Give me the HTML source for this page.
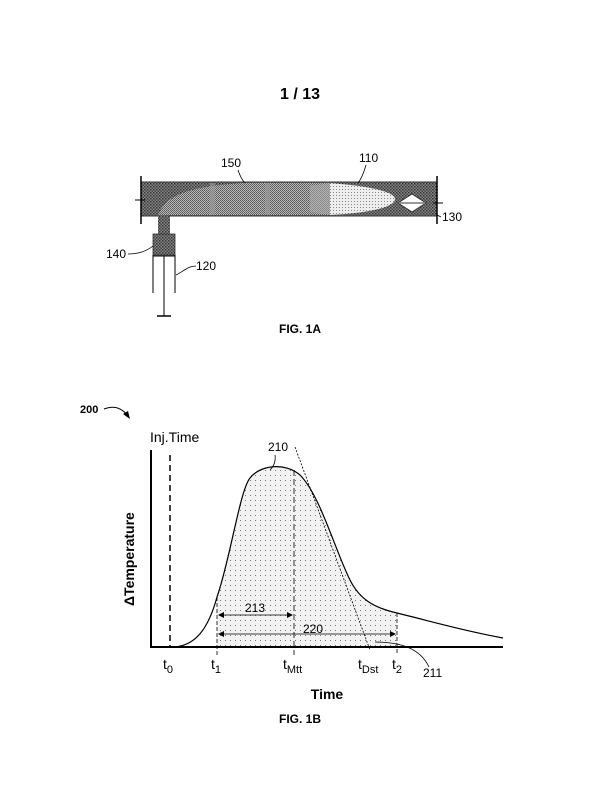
<!DOCTYPE html>
<html><head><style>body{margin:0;background:#fff}svg{display:block}text{font-family:"Liberation Sans",sans-serif;fill:#000}</style></head>
<body>
<svg width="600" height="800" viewBox="0 0 600 800">
<defs>
<pattern id="dk" width="3" height="3" patternUnits="userSpaceOnUse"><rect width="3" height="3" fill="#888"/><rect width="1.5" height="1.5" fill="#333"/><rect x="1.5" y="1.5" width="1.5" height="1.5" fill="#444"/></pattern>
<pattern id="md" width="2" height="2" patternUnits="userSpaceOnUse"><rect width="2" height="2" fill="#bbb"/><rect width="1" height="1" fill="#555"/><rect x="1" y="1" width="1" height="1" fill="#666"/></pattern>
<pattern id="lt" width="3" height="3" patternUnits="userSpaceOnUse"><rect width="3" height="3" fill="#eee"/><rect width="1" height="1" fill="#888"/></pattern>
<pattern id="dots" width="5" height="5" patternUnits="userSpaceOnUse"><rect width="5" height="5" fill="#f2f2f2"/><rect width="1" height="1" fill="#777"/></pattern>
</defs>
<text x="300" y="99" font-size="16" font-weight="bold" text-anchor="middle">1 / 13</text>
<rect x="141" y="182" width="296" height="34" fill="url(#dk)"/>
<path d="M158 216 C165 195 190 186 245 183 L330 183 L330 215 L170 215 Z" fill="url(#md)"/>
<path d="M330 183 C370 186 395 192 395 199 C395 207 370 213 330 215 Z" fill="url(#lt)"/>
<path d="M310 186 L330 183 L330 215 L310 212 Z" fill="#aaa" opacity="0.6"/>
<rect x="210" y="183" width="5" height="32" fill="#999" opacity="0.6"/>
<rect x="265" y="183" width="5" height="32" fill="#999" opacity="0.6"/>
<line x1="141" y1="182" x2="437" y2="182" stroke="#333"/>
<line x1="141" y1="216" x2="437" y2="216" stroke="#333"/>
<line x1="141" y1="176" x2="141" y2="224" stroke="#000" stroke-width="1.5"/>
<line x1="437" y1="176" x2="437" y2="224" stroke="#000" stroke-width="1.5"/>
<polygon points="398,203 412,194 426,203 412,212" fill="#fff" stroke="#333"/>
<line x1="400" y1="203" x2="424" y2="203" stroke="#333"/>
<line x1="135" y1="200" x2="145" y2="200" stroke="#000"/>
<line x1="433" y1="203" x2="443" y2="203" stroke="#000"/>
<rect x="158" y="216" width="12" height="19" fill="url(#dk)"/>
<rect x="153" y="234" width="22" height="21" fill="url(#dk)" stroke="#333" stroke-width="0.8"/>
<line x1="153" y1="255" x2="153" y2="293" stroke="#000"/>
<line x1="175" y1="255" x2="175" y2="293" stroke="#000"/>
<line x1="153" y1="256" x2="175" y2="256" stroke="#000"/>
<line x1="164" y1="256" x2="164" y2="316" stroke="#000"/>
<line x1="157" y1="316" x2="171" y2="316" stroke="#000" stroke-width="1.5"/>
<g font-size="12">
<text x="221" y="167">150</text><path d="M238 170 C240 176 242 180 245 183" fill="none" stroke="#000" stroke-width="0.8"/>
<text x="359" y="162">110</text><path d="M366 165 C364 172 362 178 358 183" fill="none" stroke="#000" stroke-width="0.8"/>
<text x="442" y="221">130</text><path d="M437 215 L441 217" stroke="#000" stroke-width="0.8"/>
<text x="106" y="258">140</text><path d="M128 254 C140 254 148 250 153 246" fill="none" stroke="#000" stroke-width="0.8"/>
<text x="196" y="270">120</text><path d="M176 275 C184 271 188 266 196 266" fill="none" stroke="#000" stroke-width="0.8"/>
</g>
<text x="300" y="333" font-size="12" font-weight="bold" text-anchor="middle">FIG. 1A</text>
<text x="80" y="413" font-size="11" font-weight="bold">200</text>
<path d="M104 409 C114 405 122 408 128 416" fill="none" stroke="#000"/>
<polygon points="130,419 123,414 128,411" fill="#000"/>
<text x="150" y="442" font-size="14">Inj.Time</text>
<text transform="translate(134,606) rotate(-90)" font-size="14" font-weight="bold">ΔTemperature</text>
<path d="M217 597 C230 560 240 490 250 478 C260 465 285 462 300 475 C320 495 335 550 350 580 C360 600 375 608 397 613 L397 647 L217 647 Z" fill="url(#dots)"/>
<path d="M175 647 C195 645 208 630 217 597 C230 560 240 490 250 478 C260 465 285 462 300 475 C320 495 335 550 350 580 C360 600 375 608 397 613 C430 621 460 630 503 638" fill="none" stroke="#000" stroke-width="1.2"/>
<line x1="151" y1="450" x2="151" y2="648" stroke="#000" stroke-width="2"/>
<line x1="150" y1="647" x2="503" y2="647" stroke="#000" stroke-width="2"/>
<line x1="170" y1="455" x2="170" y2="647" stroke="#000" stroke-width="1.5" stroke-dasharray="6,4"/>
<line x1="217" y1="597" x2="217" y2="655" stroke="#000" stroke-width="0.8" stroke-dasharray="4,2"/>
<line x1="294" y1="470" x2="294" y2="655" stroke="#000" stroke-width="0.8" stroke-dasharray="6,3"/>
<line x1="397" y1="613" x2="397" y2="655" stroke="#000" stroke-width="0.8" stroke-dasharray="4,2"/>
<line x1="295" y1="447" x2="370" y2="650" stroke="#000" stroke-width="0.8" stroke-dasharray="2,1.5"/>
<line x1="219" y1="615" x2="292" y2="615" stroke="#000" stroke-width="0.8"/>
<polygon points="218,615 224,612 224,618"/><polygon points="293,615 287,612 287,618"/>
<line x1="219" y1="634" x2="395" y2="634" stroke="#000" stroke-width="0.8"/>
<polygon points="218,634 224,631 224,637"/><polygon points="396,634 390,631 390,637"/>
<g font-size="12">
<text x="245" y="612">213</text>
<text x="303" y="633">220</text>
<text x="268" y="451">210</text><path d="M275 455 C276 462 273 467 270 470" fill="none" stroke="#000" stroke-width="0.8"/>
<text x="423" y="677">211</text><path d="M375 642 C400 642 420 648 429 667" fill="none" stroke="#000" stroke-width="0.8"/>
</g>
<g font-size="14">
<text x="163" y="669">t<tspan font-size="11" dy="4">0</tspan></text>
<text x="211" y="669">t<tspan font-size="11" dy="4">1</tspan></text>
<text x="283" y="669">t<tspan font-size="11" dy="4">Mtt</tspan></text>
<text x="358" y="669">t<tspan font-size="11" dy="4">Dst</tspan></text>
<text x="392" y="669">t<tspan font-size="11" dy="4">2</tspan></text>
</g>
<text x="327" y="699" font-size="14" font-weight="bold" text-anchor="middle">Time</text>
<text x="300" y="723" font-size="12" font-weight="bold" text-anchor="middle">FIG. 1B</text>
</svg>
</body></html>
